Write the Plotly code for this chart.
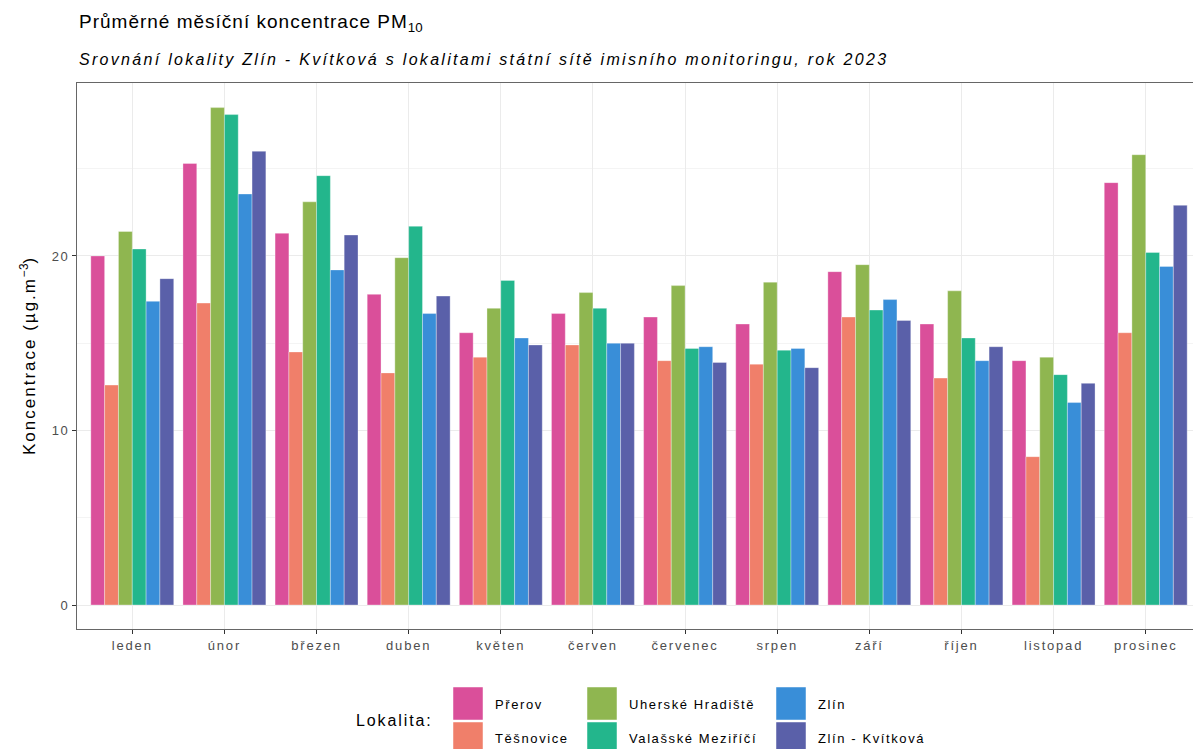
import plotly.graph_objects as go

# Monthly mean PM10 concentrations, 2023 (µg/m3)
months = ["leden", "únor", "březen", "duben", "květen", "červen",
          "červenec", "srpen", "září", "říjen", "listopad", "prosinec"]

stations = ["Přerov", "Těšnovice", "Uherské Hradiště",
            "Valašské Meziříčí", "Zlín", "Zlín - Kvítková"]

prerov = [20.0, 25.3, 21.3, 17.8, 15.6, 16.7, 16.5, 16.1, 19.1, 16.1, 14.0, 24.2]
tesnovice = [12.6, 17.3, 14.5, 13.3, 14.2, 14.9, 14.0, 13.8, 16.5, 13.0, 8.5, 15.6]
uherske_hradiste = [21.4, 28.5, 23.1, 19.9, 17.0, 17.9, 18.3, 18.5, 19.5, 18.0, 14.2, 25.8]
valasske_mezirici = [20.4, 28.1, 24.6, 21.7, 18.6, 17.0, 14.7, 14.6, 16.9, 15.3, 13.2, 20.2]
zlin = [17.4, 23.55, 19.2, 16.7, 15.3, 15.0, 14.8, 14.7, 17.5, 14.0, 11.6, 19.4]
zlin_kvitkova = [18.7, 26.0, 21.2, 17.7, 14.9, 15.0, 13.9, 13.6, 16.3, 14.8, 12.7, 22.9]

series = [prerov, tesnovice, uherske_hradiste, valasske_mezirici, zlin, zlin_kvitkova]
colors = ["#DA4F9A", "#F07F6A", "#8FB650", "#23B68C", "#398ED8", "#5A60A9"]

y_ticks = [0, 10, 20]

W, H = 1193, 749
L, T, B = 77, 83, 629          # panel edges in pixels
R = W                          # panel runs to the right edge
FONT = "Liberation Sans, Arial, sans-serif"


def px_x(px):
    return (px - L) / (R - L)


def px_y(py):
    return (B - py) / (B - T)


def spaced(s, ls):
    return f'<span style="letter-spacing:{ls}px">{s}</span>'


fig = go.Figure()
for name, vals, col in zip(stations, series, colors):
    fig.add_trace(go.Bar(
        x=months, y=vals, name=name,
        marker=dict(color=col, line=dict(color="rgba(255,255,255,0.55)", width=0.6)),
        showlegend=False,
    ))

fig.update_layout(
    width=W, height=H,
    margin=dict(l=L, r=W - R, t=T, b=H - B),
    paper_bgcolor="white", plot_bgcolor="white",
    barmode="group", bargap=0.1, bargroupgap=0,
    font=dict(family=FONT, color="#4D4D4D"),
)

fig.update_xaxes(
    range=[-0.6, 11.6 - 8 / 92.2],
    tickvals=months, ticktext=[spaced(m, 1.8) for m in months],
    showgrid=True, gridcolor="#EBEBEB", gridwidth=1.1,
    showline=True, linecolor="#666666", linewidth=1.3, mirror=True,
    ticks="outside", ticklen=4, tickcolor="#333333", tickwidth=1.1,
    tickfont=dict(size=13, color="#4D4D4D", family=FONT),
)
fig.update_yaxes(
    range=[-1.375, 29.91],
    tickvals=y_ticks, ticktext=[spaced(str(v), 1.5) for v in y_ticks],
    showgrid=True, gridcolor="#EBEBEB", gridwidth=1.1,
    minor=dict(tickvals=[5, 15, 25], showgrid=True, gridcolor="#F4F4F4", gridwidth=0.6),
    zeroline=False,
    showline=True, linecolor="#666666", linewidth=1.3, mirror=False,
    ticks="outside", ticklen=4, tickcolor="#333333", tickwidth=1.1,
    tickfont=dict(size=13, color="#4D4D4D", family=FONT),
)

annotations = [
    dict(text=spaced("Průměrné měsíční koncentrace PM", 1.0) + "<sub>10</sub>",
         x=px_x(77), y=px_y(23), xanchor="left", yanchor="middle",
         font=dict(size=19, color="black", family=FONT)),
    dict(text="<i>" + spaced("Srovnání lokality Zlín - Kvítková s lokalitami státní sítě imisního monitoringu, rok 2023", 2.3) + "</i>",
         x=px_x(77), y=px_y(60), xanchor="left", yanchor="middle",
         font=dict(size=16, color="black", family=FONT)),
    dict(text=spaced("Koncentrace (µg.m", 2.0) + "<sup>−3</sup>" + spaced(")", 2.0), textangle=-90,
         x=px_x(28), y=px_y(356), xanchor="center", yanchor="middle",
         font=dict(size=17, color="black", family=FONT)),
    dict(text=spaced("Lokalita:", 1.9),
         x=px_x(354), y=px_y(720), xanchor="left", yanchor="middle",
         font=dict(size=16, color="black", family=FONT)),
]

shapes = []
# legend keys laid out in columns of two
key_cols = [453, 587, 776]
text_cols = [493, 627, 816]
key_rows = [(687, 720), (722, 755)]
text_rows = [704, 738]
for i, (name, col) in enumerate(zip(stations, colors)):
    c, r = divmod(i, 2)
    x0 = key_cols[c]
    y0, y1 = key_rows[r]
    shapes.append(dict(type="rect", xref="paper", yref="paper",
                       x0=px_x(x0), x1=px_x(x0 + 30), y0=px_y(y1), y1=px_y(y0),
                       fillcolor=col, line=dict(color="rgba(255,255,255,0.6)", width=0.8)))
    annotations.append(dict(text=spaced(name, 1.6), x=px_x(text_cols[c]), y=px_y(text_rows[r]),
                            xanchor="left", yanchor="middle",
                            font=dict(size=13, color="black", family=FONT)))

for a in annotations:
    a.update(xref="paper", yref="paper", showarrow=False)

fig.update_layout(annotations=annotations, shapes=shapes)

fig.write_html("out.html")
